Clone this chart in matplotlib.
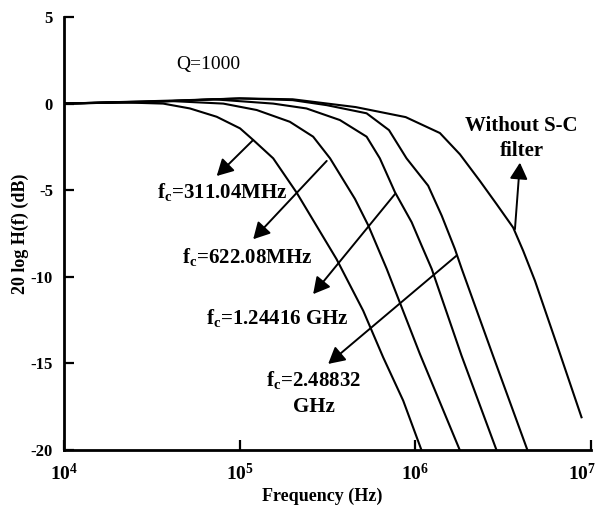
import matplotlib
matplotlib.use("Agg")
import matplotlib.pyplot as plt
from matplotlib.ticker import FixedLocator, NullLocator, FixedFormatter
from matplotlib.transforms import ScaledTranslation

plt.rcParams['font.family'] = ['Liberation Serif', 'DejaVu Serif']
plt.rcParams['axes.unicode_minus'] = False

# values: frequency (Hz) and gain (dB)
f_311 = [1.0e4, 2.0e4, 3.67e4, 5.21e4, 7.40e4, 1.005e5, 1.194e5, 1.552e5,
         2.11e5, 2.74e5, 3.56e5, 5.05e5, 6.56e5, 8.53e5, 1.086e6]
g_311 = [0.0, 0.08, 0.0, -0.28, -0.76, -1.43, -2.10, -3.16,
         -5.14, -7.06, -8.98, -11.96, -14.65, -17.15, -20.03]

f_622 = [1.0e4, 2.5e4, 4.0e4, 8.07e4, 1.25e5, 1.93e5, 2.62e5, 3.27e5,
         4.53e5, 5.40e5, 6.15e5, 6.87e5, 1.062e6, 1.795e6]
g_622 = [0.0, 0.1, 0.15, 0.0, -0.37, -1.05, -1.91, -3.16,
         -5.50, -7.04, -8.39, -9.54, -14.46, -20.03]

f_1244 = [1.0e4, 3.16e4, 7.08e4, 1.552e5, 2.40e5, 3.72e5, 5.28e5, 6.28e5,
          7.66e5, 9.53e5, 1.086e6, 1.239e6, 1.832e6, 2.904e6]
g_1244 = [0.0, 0.1, 0.25, 0.0, -0.28, -0.95, -1.91, -3.16,
          -5.12, -6.85, -8.20, -9.54, -14.55, -20.03]

f_2488 = [1.0e4, 3.16e4, 1.0e5, 2.0e5, 3.13e5, 5.28e5, 7.08e5, 8.91e5,
          1.183e6, 1.413e6, 1.679e6, 1.837e6, 2.767e6, 4.355e6]
g_2488 = [0.0, 0.1, 0.3, 0.2, -0.09, -0.56, -1.53, -3.16,
          -4.74, -6.47, -8.39, -9.54, -14.55, -20.03]

f_nofilt = [1.0e4, 5.01e4, 1.0e5, 2.0e5, 4.57e5, 8.81e5, 1.38e6, 1.795e6,
            2.333e6, 2.904e6, 3.606e6, 4.111e6, 4.797e6, 6.486e6, 8.831e6]
g_nofilt = [0.0, 0.2, 0.3, 0.25, -0.2, -0.78, -1.7, -2.93,
            -4.47, -5.81, -7.16, -8.50, -10.23, -14.1, -18.11]

y_ticks = [5, 0, -5, -10, -15, -20]
x_ticks = [1e4, 1e5, 1e6, 1e7]
x_tick_labels = [r'$\mathdefault{10^{4}}$', r'$\mathdefault{10^{5}}$',
                 r'$\mathdefault{10^{6}}$', r'$\mathdefault{10^{7}}$']

sub = r'f$_\mathregular{c}$'
# label text, label position, arrow start (on curve), arrow tip
notes = [
    (sub + '=311.04MHz', (7.98e4, -5.13), (1.194e5, -2.10), (7.40e4, -4.18)),
    (sub + '=622.08MHz', (1.107e5, -8.89), (3.13e5, -3.31), (1.194e5, -7.83)),
    (sub + '=1.24416 GHz', (1.64e5, -12.42), (7.66e5, -5.22), (2.62e5, -11.0)),
    (sub + '=2.48832\nGHz', (2.65e5, -16.74), (1.72e6, -8.77), (3.19e5, -15.03)),
    ('Without S-C\nfilter', (4.02e6, -2.02), (3.69e6, -7.25), (3.94e6, -3.41)),
]

fig = plt.figure(figsize=(6.03, 5.07), dpi=100)
ax = fig.add_axes([64 / 603, 57 / 507, 527 / 603, 433 / 507])

for f, g in [(f_311, g_311), (f_622, g_622), (f_1244, g_1244),
             (f_2488, g_2488), (f_nofilt, g_nofilt)]:
    ax.plot(f, g, color='black', lw=1.5)

ax.set_xscale('log')
ax.set_xlim(1e4, 1e7)
ax.set_ylim(-20, 5)

ax.xaxis.set_major_locator(FixedLocator(x_ticks))
ax.xaxis.set_major_formatter(FixedFormatter(x_tick_labels))
ax.xaxis.set_minor_locator(NullLocator())
ax.set_yticks(y_ticks)
ax.set_yticklabels([str(v) for v in y_ticks])

for s in ['top', 'right']:
    ax.spines[s].set_visible(False)
for s in ['left', 'bottom']:
    ax.spines[s].set_linewidth(2.0)

ax.tick_params(axis='both', direction='in', width=1.6, length=7)
ax.tick_params(axis='x', pad=9, labelsize=14)
ax.tick_params(axis='y', pad=8, labelsize=12)
for lab in ax.get_xticklabels() + ax.get_yticklabels():
    lab.set_fontweight('bold')

# last x label is pulled in a little so it stays inside the picture
last = ax.get_xticklabels()[-1]
last.set_transform(last.get_transform() + ScaledTranslation(-0.09, 0, fig.dpi_scale_trans))

ax.set_xlabel('Frequency (Hz)', fontsize=13, fontweight='bold')
ax.set_ylabel('20 log H(f) (dB)', fontsize=13, fontweight='bold')
ax.xaxis.set_label_coords(0.489, -0.108)
ax.yaxis.set_label_coords(-0.082, 0.5)
ax.xaxis.label.set_va('center')
ax.yaxis.label.set_va('center')

ax.text(6.6e4, 2.28, 'Q=1000', fontsize=14, ha='center', va='center')

for txt, pos, start, tip in notes:
    ax.annotate('', xy=tip, xytext=start,
                arrowprops=dict(arrowstyle='-|>,head_length=0.55,head_width=0.3',
                                mutation_scale=18, color='black', lw=1.4,
                                shrinkA=0, shrinkB=0))
    ax.text(pos[0], pos[1], txt, fontsize=15, fontweight='bold',
            ha='center', va='center', linespacing=1.35)

fig.savefig('out.png', dpi=100)
